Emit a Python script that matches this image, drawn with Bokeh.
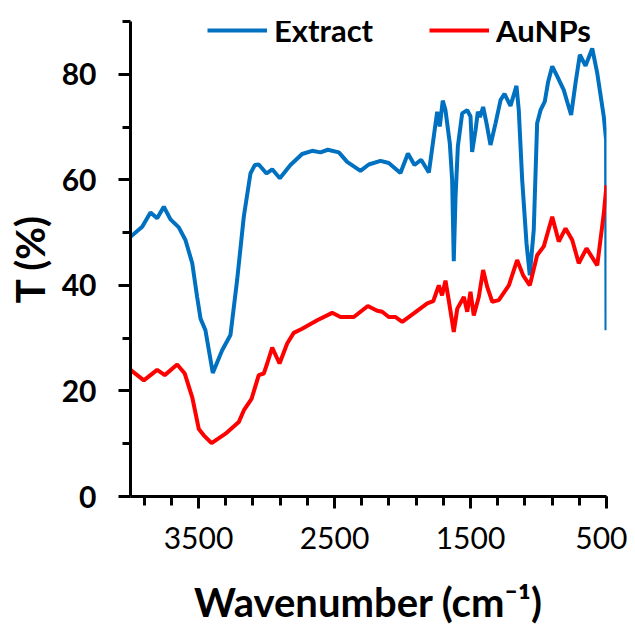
from bokeh.plotting import figure
from bokeh.models import Range1d, FixedTicker, Legend, LegendItem
from bokeh.embed import file_html
from bokeh.resources import INLINE

# Extract (blue) spectrum
extract_wn = [4000, 3914, 3853, 3804, 3755, 3706, 3645, 3596, 3546, 3510, 3485, 3449, 3395,
              3326, 3265, 3216, 3167, 3118, 3086, 3057, 3000, 2958, 2902, 2824, 2738, 2664,
              2603, 2549, 2468, 2407, 2309, 2248, 2162, 2101, 2015, 1960, 1912, 1863, 1806,
              1770, 1745, 1726, 1704, 1684, 1652, 1635, 1623, 1610, 1593, 1561, 1524, 1500,
              1488, 1463, 1446, 1431, 1407, 1382, 1353, 1316, 1279, 1250, 1206, 1162, 1145,
              1120, 1088, 1064, 1035, 1010, 985, 954, 929, 899, 862, 814, 789, 760, 728, 696,
              654, 605, 568, 520, 503, 500]
extract_t = [49.2, 51.1, 53.8, 52.7, 54.9, 52.5, 51.0, 48.6, 44.2, 37.8, 33.7, 31.5, 23.4,
             27.7, 30.6, 41.0, 53.0, 61.2, 62.8, 62.9, 61.2, 62.0, 60.3, 62.8, 64.9, 65.5,
             65.2, 65.7, 65.2, 63.4, 61.7, 62.9, 63.6, 63.2, 61.3, 65.0, 62.8, 63.8, 61.4,
             68.2, 72.9, 70.1, 75.0, 73.2, 66.9, 60.0, 44.6, 56.8, 66.3, 72.6, 73.2, 72.0,
             65.3, 69.4, 72.9, 71.9, 73.8, 70.7, 66.6, 70.7, 75.1, 76.3, 74.0, 77.8, 73.2,
             60.0, 47.9, 41.9, 50.5, 70.7, 73.2, 74.8, 78.6, 81.5, 79.6, 77.0, 74.8, 72.3, 78.3, 83.7,
             81.6, 84.9, 80.2, 72.0, 67.6, 31.5]

# AuNPs (red) spectrum
aunps_wn = [4000, 3902, 3804, 3748, 3657, 3601, 3546, 3498, 3461, 3404, 3301, 3204, 3167,
            3110, 3057, 3020, 2995, 2958, 2904, 2848, 2800, 2738, 2627, 2517, 2456, 2358,
            2255, 2186, 2149, 2101, 2051, 2002, 1917, 1818, 1774, 1733, 1709, 1684, 1660,
            1623, 1597, 1549, 1524, 1500, 1476, 1439, 1407, 1377, 1340, 1292, 1218, 1157,
            1113, 1064, 1010, 961, 899, 851, 801, 752, 704, 647, 568, 520, 500]
aunps_t = [24.0, 22.0, 24.0, 23.0, 25.0, 23.3, 18.8, 12.8, 11.6, 10.1, 11.9, 14.1, 16.3,
           18.5, 23.0, 23.3, 25.2, 28.2, 25.2, 29.0, 31.0, 31.8, 33.4, 34.8, 34.0, 34.0,
           36.1, 35.2, 35.0, 34.0, 34.0, 33.1, 34.7, 36.6, 37.0, 40.0, 38.1, 40.9, 37.2,
           31.2, 35.6, 37.8, 35.0, 38.8, 34.3, 37.8, 42.9, 39.7, 36.9, 37.2, 40.0, 44.8,
           41.9, 40.0, 45.7, 47.4, 53.0, 48.3, 50.8, 48.6, 44.2, 47.0, 43.8, 53.6, 59.0]

x_major = [3500, 2500, 1500, 500]
x_minor = list(range(500, 4000, 200))
y_major = [0, 20, 40, 60, 80]
y_minor = [10, 20, 30, 40, 50, 60, 70, 80, 90]

FONT = "Lato"

p = figure(frame_width=476, frame_height=475,
           min_border_left=130, min_border_right=21, min_border_top=21, min_border_bottom=128,
           x_range=Range1d(4000, 500), y_range=Range1d(0, 90),
           output_backend="svg", toolbar_location=None)
p.outline_line_color = None
p.xgrid.visible = False
p.ygrid.visible = False

r1 = p.line(extract_wn, extract_t, line_color="#0070C0", line_width=4)
r2 = p.line(aunps_wn, aunps_t, line_color="#FF0000", line_width=4)

# Axes
for ax in (p.xaxis[0], p.yaxis[0]):
    ax.axis_line_width = 3
    ax.axis_line_color = "black"
    ax.major_tick_line_width = 3
    ax.minor_tick_line_width = 3
    ax.major_tick_line_color = "black"
    ax.minor_tick_line_color = "black"
    ax.major_tick_in = 0
    ax.minor_tick_in = 0
    ax.major_label_text_font = FONT
    ax.major_label_text_color = "black"
    ax.axis_label_text_font = FONT
    ax.axis_label_text_font_style = "bold"
    ax.axis_label_text_color = "black"
    ax.axis_label_text_font_size = "40px"

p.xaxis.ticker = FixedTicker(ticks=x_major, minor_ticks=x_minor)
p.xaxis.major_tick_out = 12
p.xaxis.minor_tick_out = 9
p.xaxis.major_label_text_font_size = "30px"
p.xaxis.major_label_text_font_style = "normal"
p.xaxis.major_label_standoff = 18
p.xaxis.axis_label = "Wavenumber (cm\u207b\u00b9)"
p.xaxis.axis_label_standoff = 26

p.yaxis.ticker = FixedTicker(ticks=y_major, minor_ticks=y_minor)
p.yaxis.major_tick_out = 12
p.yaxis.minor_tick_out = 8
p.yaxis.major_label_text_font_size = "30px"
p.yaxis.major_label_text_font_style = "bold"
p.yaxis.major_label_standoff = 22
p.yaxis.axis_label = "T (%)"
p.yaxis.axis_label_standoff = 5

legend = Legend(items=[LegendItem(label="Extract", renderers=[r1]),
                       LegendItem(label="AuNPs", renderers=[r2])],
                orientation="horizontal", location=(77, 444),
                glyph_width=60, glyph_height=44, label_height=44,
                label_standoff=7, spacing=56, padding=0, margin=0,
                border_line_color=None, background_fill_alpha=0,
                label_text_font=FONT, label_text_font_style="bold",
                label_text_font_size="31px", label_text_color="black")
p.add_layout(legend, "center")

open("out.html", "w").write(file_html(p, INLINE))
